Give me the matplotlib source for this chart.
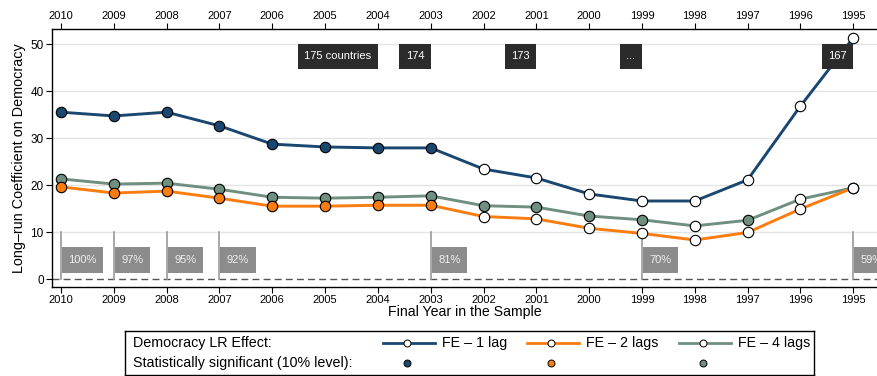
import numpy as np
import matplotlib
matplotlib.use("Agg")
import matplotlib.pyplot as plt
from matplotlib.lines import Line2D
from matplotlib.patches import Rectangle
from matplotlib.transforms import offset_copy

plt.rcParams["font.family"] = ["Liberation Sans", "DejaVu Sans"]

years = [2010, 2009, 2008, 2007, 2006, 2005, 2004, 2003,
         2002, 2001, 2000, 1999, 1998, 1997, 1996, 1995]

fe1 = [35.5, 34.7, 35.5, 32.6, 28.7, 28.1, 27.9, 27.9,
       23.4, 21.5, 18.1, 16.6, 16.6, 21.1, 36.8, 51.3]
fe2 = [19.6, 18.3, 18.7, 17.2, 15.5, 15.5, 15.7, 15.7,
       13.3, 12.8, 10.8, 9.7, 8.3, 9.9, 14.9, 19.4]
fe4 = [21.3, 20.2, 20.4, 19.1, 17.4, 17.2, 17.4, 17.7,
       15.6, 15.3, 13.4, 12.6, 11.3, 12.5, 17.0, 19.4]

# significant at 10% (filled markers)
sig1 = [1, 1, 1, 1, 1, 1, 1, 1, 0, 0, 0, 0, 0, 0, 0, 0]
sig2 = [1, 1, 1, 1, 1, 1, 1, 1, 0, 0, 0, 0, 0, 0, 0, 0]
sig4 = [1, 1, 1, 1, 1, 1, 1, 1, 1, 1, 1, 1, 0, 1, 0, 0]

# number of countries in the sample (box right-aligned at the year)
n_years = [2004, 2003, 2001, 1999, 1995]
n_labels = ["175 countries", "174", "173", "...", "167"]

# share of the full sample (box left-aligned at the year)
share_years = [2010, 2009, 2008, 2007, 2003, 1999, 1995]
share_labels = ["100%", "97%", "95%", "92%", "81%", "70%", "59%"]

c1, c2, c4 = "#1a476f", "#fb7d10", "#6f8f80"

fig = plt.figure(figsize=(8.77, 3.76), dpi=100)
ax = fig.add_axes([52 / 877, 1 - 287 / 376, 1 - 52 / 877, 258 / 376])

x = np.arange(len(years))
pos = dict(zip(years, x))

ax.set_xlim(-0.17, 15.45)
ax.set_ylim(-1.7, 53.2)

for v in [10, 20, 30, 40, 50]:
    ax.axhline(v, color="#e4e4e4", lw=1, zorder=0)
ax.axhline(0, color="#555555", lw=1, ls=(0, (5, 3)), zorder=1)

for vals, sig, col in [(fe4, sig4, c4), (fe2, sig2, c2), (fe1, sig1, c1)]:
    ax.plot(x, vals, color=col, lw=2.1, zorder=3)
    for xi, yi, s in zip(x, vals, sig):
        ax.plot(xi, yi, "o", ms=7.5, mec="black", mew=0.8,
                mfc=col if s else "white", zorder=4)

PADX = 6.5  # horizontal padding of the label boxes, pixels


def boxed(xp, y0, y1, text, side, fc, tc):
    """Text in a box spanning y0..y1; side='right' -> box ends at xp."""
    sign = -1 if side == "right" else 1
    shift = 1 if side == "left" else 0
    tr = offset_copy(ax.transData, fig=fig, x=sign * PADX + shift, y=0,
                     units="dots")
    t = ax.text(xp, (y0 + y1) / 2, text, ha=side, va="center", color=tc,
                fontsize=8, zorder=6, transform=tr, clip_on=True)
    fig.canvas.draw()
    bb = t.get_window_extent()
    inv = ax.transData.inverted()
    if side == "right":
        left = inv.transform((bb.x0 - PADX, 0))[0]
        right = xp
    else:
        left = inv.transform((bb.x0 - PADX, 0))[0]
        right = inv.transform((bb.x1 + PADX, 0))[0]
    ax.add_patch(Rectangle((left, y0), right - left, y1 - y0, fc=fc,
                           ec="none", zorder=5))


# country-count boxes
for yr, lab in zip(n_years, n_labels):
    boxed(pos[yr], 44.7, 50.0, lab, "right", "#2b2b2b", "white")

# sample-share markers
for yr, lab in zip(share_years, share_labels):
    xp = pos[yr]
    ax.plot([xp, xp], [0, 10], color="#999999", lw=1.2, zorder=2)
    boxed(xp, 1.3, 6.8, lab, "left", "#8c8c8c", "#f0f0f0")

ax.set_xticks(x)
ax.set_xticklabels([str(y) for y in years])
ax.tick_params(axis="x", labelsize=8, length=4, top=True, labeltop=True,
               direction="out", pad=2)
ax.set_yticks([0, 10, 20, 30, 40, 50])
ax.tick_params(axis="y", labelsize=8.5, length=4, direction="out", pad=2)
ax.spines["right"].set_visible(False)
for s in ["left", "top", "bottom"]:
    ax.spines[s].set_linewidth(1)
ax.set_ylabel("Long\u2013run Coefficient on Democracy", fontsize=10.4, labelpad=3)
ax.set_xlabel("Final Year in the Sample", fontsize=10.2, labelpad=0)

# legend panel
lg = fig.add_axes([125 / 877, 1 - 375 / 376, (814 - 125) / 877, 44 / 376])
lg.set_xlim(125, 814)
lg.set_ylim(375, 331)
lg.set_xticks([])
lg.set_yticks([])
for s in lg.spines.values():
    s.set_linewidth(1)
lg.text(133, 343, "Democracy LR Effect:", fontsize=10.3, va="center")
lg.text(133, 363, "Statistically significant (10% level):", fontsize=10.3,
        va="center")
entries = [(c1, 383, "FE \u2013 1 lag"), (c2, 527, "FE \u2013 2 lags"),
           (c4, 679, "FE \u2013 4 lags")]
for col, x0, lab in entries:
    lg.add_line(Line2D([x0, x0 + 52], [343, 343], color=col, lw=2))
    lg.plot(x0 + 24, 343, "o", ms=5, mfc="white", mec="black", mew=0.7)
    lg.plot(x0 + 24, 363, "o", ms=5, mfc=col, mec="black", mew=0.7)
    lg.text(x0 + 59, 343, lab, fontsize=10.3, va="center")

fig.savefig("out.png", dpi=100)
